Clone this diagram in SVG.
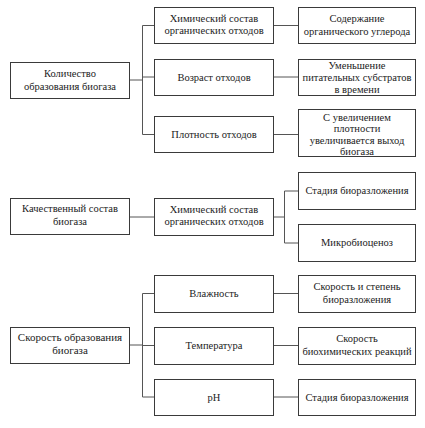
<svg xmlns="http://www.w3.org/2000/svg" width="425" height="428" viewBox="0 0 425 428">
<style>
.b{fill:#fff;stroke:#3a3a3a;stroke-width:1}
.t{font-family:'Liberation Serif','Times New Roman',serif;font-size:10.5px;fill:#222;text-anchor:middle}
.c{fill:none;stroke:#555;stroke-width:1}
</style>
<rect width="425" height="428" fill="#fff"/>
<g id="connectors">
<path class="c" d="M129.5 80H142.5M142.5 25.5V134.5M142.5 25.5H154.5M142.5 77H154.5M142.5 134.5H154.5"/>
<path class="c" d="M273.5 25.5H298.5M273.5 77H298.5M273.5 134.5H298.5"/>
<path class="c" d="M129.5 217H154.5M273.5 217H284.5M284.5 191V243M284.5 191H298.5M284.5 243H298.5"/>
<path class="c" d="M129.5 345H142.5M142.5 293.5V397M142.5 293.5H154.5M142.5 345.5H154.5M142.5 397H154.5"/>
<path class="c" d="M273.5 293.5H298.5M273.5 345.5H298.5M273.5 397H298.5"/>
</g>
<g id="n1"><rect class="b" x="10.5" y="62.5" width="119" height="36"/><text class="t" x="70" y="76.5">Количество</text><text class="t" x="70" y="89.5">образования биогаза</text></g>
<g id="n2"><rect class="b" x="154.5" y="7.5" width="119" height="36"/><text class="t" x="214" y="21.5">Химический состав</text><text class="t" x="214" y="34">органических отходов</text></g>
<g id="n3"><rect class="b" x="154.5" y="59.5" width="119" height="36"/><text class="t" x="214" y="80.5">Возраст отходов</text></g>
<g id="n4"><rect class="b" x="154.5" y="116.5" width="119" height="36"/><text class="t" x="214" y="138">Плотность отходов</text></g>
<g id="n5"><rect class="b" x="298.5" y="7.5" width="117" height="36"/><text class="t" x="357" y="22">Содержание</text><text class="t" x="357" y="35">органического углерода</text></g>
<g id="n6"><rect class="b" x="298.5" y="59.5" width="117" height="36"/><text class="t" x="357" y="68.5">Уменьшение</text><text class="t" x="357" y="80.5">питательных субстратов</text><text class="t" x="357" y="92.5">в времени</text></g>
<g id="n7"><rect class="b" x="298.5" y="109.5" width="117" height="47"/><text class="t" x="357" y="121">С увеличением</text><text class="t" x="357" y="132">плотности</text><text class="t" x="357" y="143.5">увеличивается выход</text><text class="t" x="357" y="155">биогаза</text></g>
<g id="n8"><rect class="b" x="10.5" y="198.5" width="119" height="36"/><text class="t" x="70" y="212">Качественный состав</text><text class="t" x="70" y="225">биогаза</text></g>
<g id="n9"><rect class="b" x="154.5" y="198.5" width="119" height="37"/><text class="t" x="214" y="212.5">Химический состав</text><text class="t" x="214" y="225">органических отходов</text></g>
<g id="n10"><rect class="b" x="298.5" y="172.5" width="117" height="37"/><text class="t" x="357" y="194">Стадия биоразложения</text></g>
<g id="n11"><rect class="b" x="298.5" y="224.5" width="117" height="37"/><text class="t" x="357" y="246">Микробиоценоз</text></g>
<g id="n12"><rect class="b" x="10.5" y="327.5" width="119" height="36"/><text class="t" x="70" y="341" style="font-size:11px">Скорость образования</text><text class="t" x="70" y="354" style="font-size:11px">биогаза</text></g>
<g id="n13"><rect class="b" x="154.5" y="275.5" width="119" height="37"/><text class="t" x="214" y="297">Влажность</text></g>
<g id="n14"><rect class="b" x="154.5" y="327.5" width="119" height="37"/><text class="t" x="214" y="349">Температура</text></g>
<g id="n15"><rect class="b" x="154.5" y="379.5" width="119" height="36"/><text class="t" x="214" y="401">pH</text></g>
<g id="n16"><rect class="b" x="298.5" y="275.5" width="117" height="37"/><text class="t" x="357" y="290">Скорость и степень</text><text class="t" x="357" y="302.5">биоразложения</text></g>
<g id="n17"><rect class="b" x="298.5" y="327.5" width="117" height="37"/><text class="t" x="357" y="342">Скорость</text><text class="t" x="357" y="354.5">биохимических реакций</text></g>
<g id="n18"><rect class="b" x="298.5" y="379.5" width="117" height="36"/><text class="t" x="357" y="401">Стадия биоразложения</text></g>
</svg>
